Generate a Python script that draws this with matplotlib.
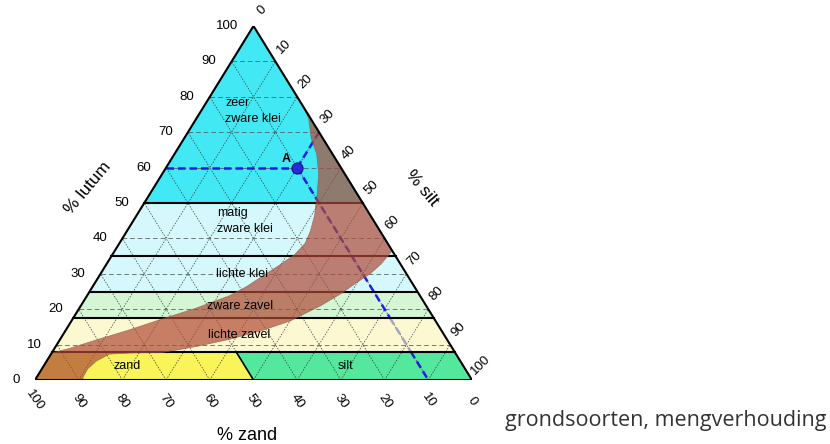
import numpy as np
import matplotlib.pyplot as plt

plt.rcParams['font.family'] = ['Liberation Sans', 'DejaVu Sans']

# tick values on the three sides
lutum_ticks = [0, 10, 20, 30, 40, 50, 60, 70, 80, 90, 100]
silt_ticks = [0, 10, 20, 30, 40, 50, 60, 70, 80, 90, 100]
sand_ticks = [100, 90, 80, 70, 60, 50, 40, 30, 20, 10, 0]

# soil classes: lutum limits (%) and the 50 % sand split at the bottom
class_names = ['lichte zavel', 'zware zavel', 'lichte klei', 'matig\nzware klei', 'zeer\nzware klei']
class_low = [8, 17.5, 25, 35, 50]
class_high = [17.5, 25, 35, 50, 100]
class_colors = ['#fcf8d2', '#d4f6d4', '#d4f8fc', '#d4f8fc', '#42e8f4']
sand_split = 50
zand_top = 8

# example point A
a_silt, a_lutum = 30, 60

# brown band (silt %, lutum %)
band_silt = [22.0, 63.5, 62.8, 61.7, 59.7, 58.0, 55.0, 50.1, 45.2, 38.8, 32.3, 28.8,
             25.3, 17.9, 13.4, 11.4, 10.5, 10.6, 11.0, 0.0, 0.0, 3.4, 8.3, 14.4,
             20.4, 26.7, 32.6, 35.3, 37.5, 39.9, 41.7, 42.5, 42.0, 40.7, 39.3, 38.4,
             35.9, 32.5, 29.1, 25.6]
band_lutum = [78.0, 36.5, 32.7, 30.0, 27.3, 24.6, 21.1, 16.7, 14.1, 11.5, 9.5, 8.6,
              7.8, 7.6, 7.3, 5.4, 3.2, 0.8, 0.0, 0.0, 7.6, 8.9, 11.3, 14.1,
              17.2, 20.3, 23.8, 26.5, 29.5, 32.7, 35.4, 38.6, 42.0, 46.6, 50.0, 52.3,
              58.0, 63.9, 68.2, 74.0]


def tern(silt, lutum):
    silt = np.asarray(silt, dtype=float)
    lutum = np.asarray(lutum, dtype=float)
    return silt + lutum / 2, lutum


fig = plt.figure(figsize=(8.3, 4.44), dpi=100)
ax = fig.add_axes([35 / 830, 64 / 444, 437 / 830, 354 / 444])
ax.set_xlim(0, 100)
ax.set_ylim(0, 100)
ax.axis('off')

# class fills
for lo, hi, col in zip(class_low, class_high, class_colors):
    x, y = tern([0, 100 - lo, 100 - hi, 0], [lo, lo, hi, hi])
    ax.fill(x, y, color=col, lw=0, zorder=1)
x, y = tern([0, sand_split, sand_split - zand_top, 0], [0, 0, zand_top, zand_top])
ax.fill(x, y, color='#f8f45a', lw=0, zorder=1)
x, y = tern([sand_split, 100, 100 - zand_top, sand_split - zand_top], [0, 0, zand_top, zand_top])
ax.fill(x, y, color='#54e89c', lw=0, zorder=1)

# grid every 10 %
for v in range(10, 100, 10):
    x, y = tern([0, 100 - v], [v, v])
    ax.plot(x, y, color='#555555', lw=0.55, dashes=(6, 4), zorder=2)
    x, y = tern([v, v], [0, 100 - v])
    ax.plot(x, y, color='#333333', lw=0.5, dashes=(2, 2), zorder=2)
    x, y = tern([100 - v, 0], [0, 100 - v])
    ax.plot(x, y, color='#333333', lw=0.5, dashes=(2, 2), zorder=2)

# construction lines through A
blue = '#1e1ee0'
a_sand = 100 - a_silt - a_lutum
x, y = tern([0, a_silt], [a_lutum, a_lutum])
ax.plot(x, y, color=blue, lw=1.8, dashes=(3, 1.6), zorder=3)
x, y = tern([a_silt, a_silt], [a_lutum, 100 - a_silt])
ax.plot(x, y, color=blue, lw=1.8, dashes=(3, 1.6), zorder=3)
pieces = [(a_lutum, class_high[0], blue), (class_high[0], zand_top, '#a4a4c4'), (zand_top, 0, blue)]
for l0, l1, col in pieces:
    x, y = tern([100 - a_sand - l0, 100 - a_sand - l1], [l0, l1])
    ax.plot(x, y, color=col, lw=1.8, dashes=(3, 1.6), zorder=3)

# class boundaries
for lo in class_low:
    x, y = tern([0, 100 - lo], [lo, lo])
    ax.plot(x, y, color='black', lw=1.5, zorder=4)
x, y = tern([sand_split, sand_split - zand_top], [0, zand_top])
ax.plot(x, y, color='black', lw=1.2, zorder=4)

# brown band
x, y = tern(band_silt, band_lutum)
ax.fill(x, y, color='#af4b37', alpha=0.7, lw=0.5, ec='#8a5a4a', zorder=5)

# outline
x, y = tern([0, 100, 0, 0], [0, 0, 100, 0])
ax.plot(x, y, color='black', lw=1.5, zorder=6, solid_joinstyle='miter')

# point A
x, y = tern(a_silt, a_lutum)
ax.plot(x, y, 'o', ms=8, color='#2a2ad8', mec='#10108a', mew=0.8, zorder=7)
ax.annotate('A', (x, y), xytext=(-8, 6), textcoords='offset points', ha='center',
            va='center', fontsize=9, fontweight='bold', zorder=7)

# class labels
ax.text(43.5, 76, class_names[4], fontsize=9, ha='left', va='center', linespacing=1.4, zorder=8)
ax.text(41.6, 45, class_names[3], fontsize=9, ha='left', va='center', linespacing=1.4, zorder=8)
ax.text(47.4, 30, class_names[2], fontsize=9, ha='center', va='center', zorder=8)
ax.text(46.9, 21, class_names[1], fontsize=9, ha='center', va='center', zorder=8)
ax.text(46.7, 12.6, class_names[0], fontsize=9, ha='center', va='center', zorder=8)
ax.text(21, 4, 'zand', fontsize=9, ha='center', va='center', zorder=8)
ax.text(71, 4, 'silt', fontsize=9, ha='center', va='center', zorder=8)

# tick labels
for v in lutum_ticks:
    x, y = tern(0, v)
    ax.annotate(str(v), (x, y), xytext=(-11, 0), textcoords='offset points',
                ha='right', va='center', fontsize=9.5, annotation_clip=False)
for v in silt_ticks:
    x, y = tern(v, 100 - v)
    ax.annotate(str(v), (x, y), xytext=(6, 11), textcoords='offset points', rotation=45,
                ha='center', va='center', fontsize=9.5, annotation_clip=False)
for v in sand_ticks:
    x, y = tern(100 - v, 0)
    ax.annotate(str(v), (x, y), xytext=(0, -15), textcoords='offset points', rotation=-55,
                ha='center', va='center', fontsize=9.5, annotation_clip=False)

# axis titles
ax.text(12.1, 54.2, '% lutum', rotation=50, ha='center', va='center', fontsize=12.5, clip_on=False)
ax.text(88.6, 54.2, '% silt', rotation=-50, ha='center', va='center', fontsize=12.5, clip_on=False)
ax.text(48.5, -15.8, '% zand', ha='center', va='center', fontsize=13, clip_on=False)

fig.text(505 / 830, 1 - 420 / 444, 'grondsoorten, mengverhouding', family=['Open Sans', 'DejaVu Sans'],
         fontsize=15.5, color='#333333', ha='left', va='center')

fig.savefig('out.png', dpi=100)
